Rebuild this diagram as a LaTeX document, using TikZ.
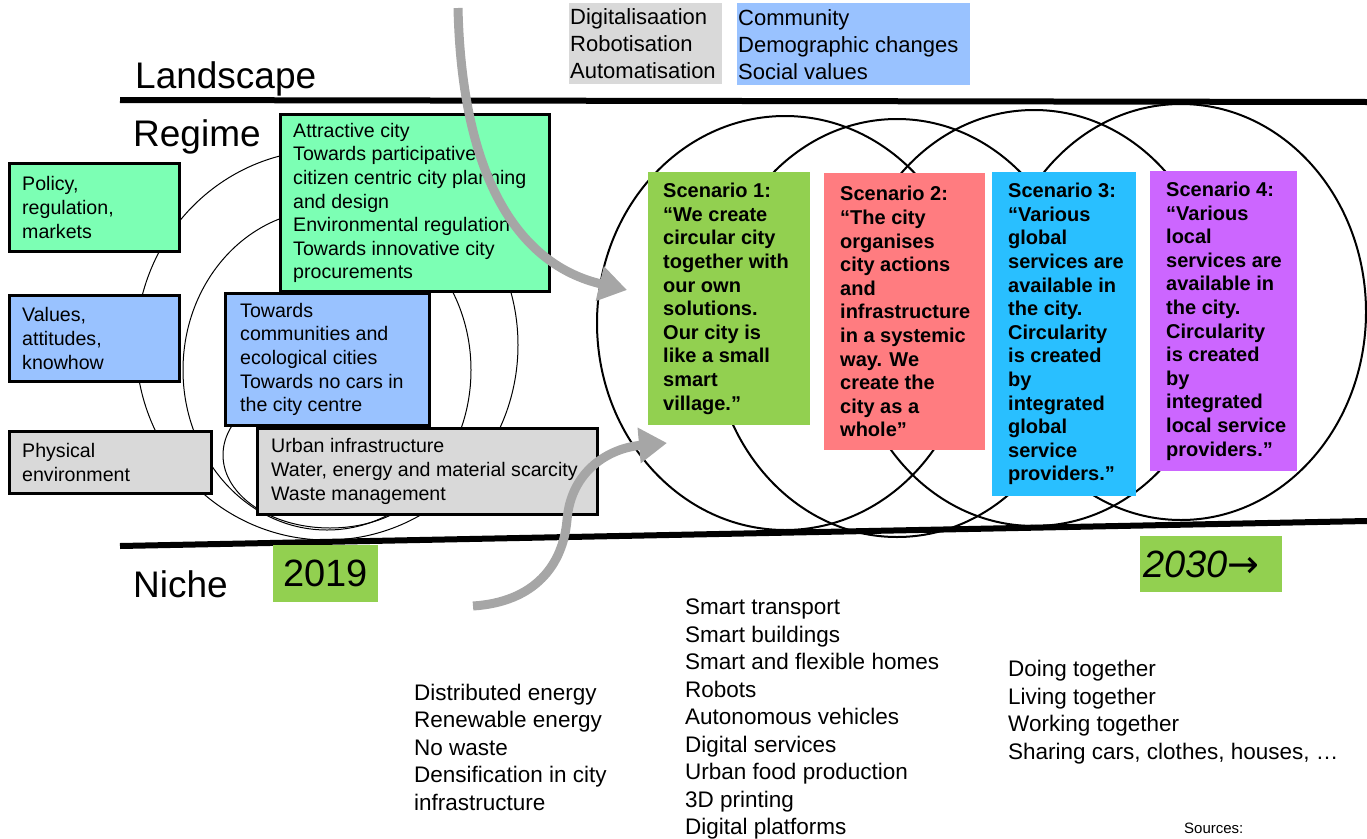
\documentclass[tikz,border=0pt]{standalone}
\usepackage{fontspec}
\setmainfont{Liberation Sans}
\newfontfamily\symfont{DejaVu Sans}
\usetikzlibrary{arrows.meta}
\definecolor{mint}{RGB}{124,255,180}
\definecolor{skyblue}{RGB}{153,194,255}
\definecolor{lightgrey}{RGB}{217,217,217}
\definecolor{leaf}{RGB}{146,208,80}
\definecolor{salmon}{RGB}{255,124,128}
\definecolor{cyanish}{RGB}{41,191,255}
\definecolor{lilac}{RGB}{204,102,255}
\definecolor{arrowgrey}{RGB}{166,166,166}
\newcommand{\setfs}[2]{\fontsize{#1}{#2}\selectfont}

\begin{document}
\begin{tikzpicture}[x=1pt,y=-1pt,
    frame/.style={draw=black,line width=3,inner sep=0,anchor=north west},
    plain/.style={inner sep=0,anchor=north west},
    boxtext/.style={inner sep=0,anchor=west,align=left,font=\setfs{19.6}{23.6}},
    scentext/.style={inner sep=0,anchor=west,align=left,font=\bfseries\setfs{20}{23.6}},
    listtext/.style={inner sep=0,anchor=west,align=left,font=\setfs{22.5}{27.5}},
    level/.style={inner sep=0,anchor=base west,font=\setfs{37}{40}},
    flow/.style={draw=arrowgrey,line width=9,-{Triangle[length=28pt,width=34pt]}}]
        \useasboundingbox (0,0) rectangle (1367,838);

        \draw[line width=1] (327,345) ellipse [x radius=191pt, y radius=195pt];
        \draw[line width=1] (327,370) ellipse [x radius=144pt, y radius=160pt];
        \draw[line width=1] (330,455) ellipse [x radius=107pt, y radius=73pt];

        \node[frame,fill=mint,minimum width=170,minimum height=88] (policy) at (8,162) {};
        \node[boxtext] (policy-t) at ([xshift=14pt]policy.west) {Policy,\\regulation,\\markets};
        \node[frame,fill=skyblue,minimum width=170,minimum height=86] (values) at (8,294) {};
        \node[boxtext] (values-t) at ([xshift=14pt]values.west) {Values,\\attitudes,\\knowhow};
        \node[frame,fill=lightgrey,minimum width=202,minimum height=62] (physical) at (8,430) {};
        \node[boxtext] (physical-t) at ([xshift=14pt]physical.west) {Physical\\environment};

        \node[frame,fill=mint,minimum width=269,minimum height=177] (attractive) at (279,113) {};
        \node[boxtext] (attractive-t) at ([xshift=14pt]attractive.west) {Attractive city\\Towards participative\\citizen centric city planning\\and design\\Environmental regulation\\Towards innovative city\\procurements};
        \node[frame,fill=skyblue,minimum width=204,minimum height=132] (communities) at (224,292) {};
        \node[boxtext] (communities-t) at ([xshift=16pt]communities.west) {Towards\\communities and\\ecological cities\\Towards no cars in\\the city centre};
        \node[frame,fill=lightgrey,minimum width=340,minimum height=86] (urban) at (256,427) {};
        \node[boxtext] (urban-t) at ([xshift=15pt]urban.west) {Urban infrastructure\\Water, energy and material scarcity\\Waste management};

        \draw[line width=2] (785,323) ellipse [x radius=188pt, y radius=207pt];
        \draw[line width=2] (897,328) ellipse [x radius=185pt, y radius=209pt];
        \draw[line width=2] (1034,318) ellipse [x radius=185pt, y radius=208pt];
        \draw[line width=2] (1181,312) ellipse [x radius=185pt, y radius=208pt];

        \node[plain,fill=leaf,minimum width=162,minimum height=253] (scen1) at (648,172) {};
        \node[scentext] (scen1-t) at ([xshift=15pt]scen1.west) {Scenario 1:\\“We create\\circular city\\together with\\our own\\solutions.\\Our city is\\like a small\\smart\\village.”};
        \node[plain,fill=salmon,minimum width=161,minimum height=277] (scen2) at (824,173) {};
        \node[scentext] (scen2-t) at ([xshift=16pt]scen2.west) {Scenario 2:\\“The city\\organises\\city actions\\and\\infrastructure\\in a systemic\\way. We\\create the\\city as a\\whole”};
        \node[plain,fill=cyanish,minimum width=144,minimum height=324] (scen3) at (992,172) {};
        \node[scentext] (scen3-t) at ([xshift=16pt]scen3.west) {Scenario 3:\\“Various\\global\\services are\\available in\\the city.\\Circularity\\is created\\by\\integrated\\global\\service\\providers.”};
        \node[plain,fill=lilac,minimum width=147,minimum height=300] (scen4) at (1150,171) {};
        \node[scentext] (scen4-t) at ([xshift=16pt]scen4.west) {Scenario 4:\\“Various\\local\\services are\\available in\\the city.\\Circularity\\is created\\by\\integrated\\local service\\providers.”};

        \draw[line width=6] (120,100) -- (1367,102);
        \draw[line width=6] (120,546) -- (1367,521);

        \node[level] (landscape) at (135,88) {Landscape};
        \node[level] (regime) at (133,146) {Regime};
        \node[level] (niche) at (133,597) {Niche};

        \node[plain,fill=lightgrey,minimum width=153,minimum height=81] (drivers) at (569,3) {};
        \node[listtext,font=\setfs{22}{27}] (drivers-t) at ([xshift=1pt]drivers.west) {Digitalisaation\\Robotisation\\Automatisation};
        \node[plain,fill=skyblue,minimum width=233,minimum height=82] (society) at (737,3) {};
        \node[listtext,font=\setfs{22}{27}] (society-t) at ([xshift=1pt]society.west) {Community\\Demographic changes\\Social values};

        \node[plain,fill=leaf,minimum width=105,minimum height=57] (y2019) at (273,545) {};
        \node[inner sep=0,font=\setfs{38}{40}] (y2019-t) at (y2019.center) {2019};
        \node[plain,fill=leaf,minimum width=142,minimum height=56] (y2030) at (1140,536) {};
        \node[inner sep=0,anchor=west,font=\itshape\setfs{38}{40}] (y2030-t) at ([xshift=3pt]y2030.west) {2030{\symfont\upshape →}};

        \coordinate (down-s) at (458,8);
        \coordinate (down-e) at (627,290);
        \draw[flow] (down-s) .. controls (462,180) and (520,265) .. (down-e);
        \coordinate (up-s) at (473,606);
        \coordinate (up-m) at (567,520);
        \coordinate (up-e) at (667,443);
        \draw[flow] (up-s) .. controls (535,602) and (563,565) .. (up-m) .. controls (571,470) and (610,448) .. (up-e);

        \node[listtext] (energy) at (414,747) {Distributed energy\\Renewable energy\\No waste\\Densification in city\\infrastructure};
        \node[listtext] (smart) at (685,719) {Smart transport\\Smart buildings\\Smart and flexible homes\\Robots\\Autonomous vehicles\\Digital services\\Urban food production\\3D printing\\Digital platforms};
        \node[listtext] (together) at (1008,712) {Doing together\\Living together\\Working together\\Sharing cars, clothes, houses, …};
        \node[inner sep=0,anchor=west,font=\setfs{15}{17}] (sources) at (1184,828) {Sources:};
    \end{tikzpicture}
\end{document}
